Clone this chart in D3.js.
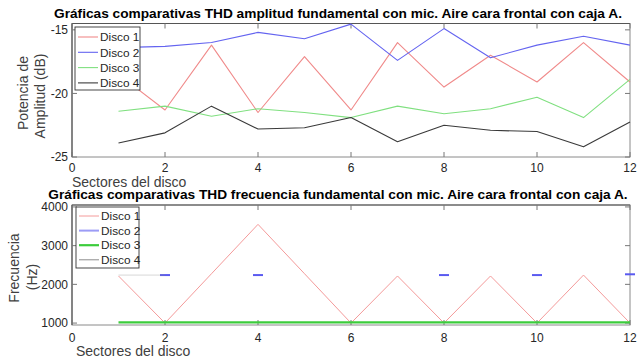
<!DOCTYPE html>
<html>
<head>
<meta charset="utf-8">
<script src="https://cdn.jsdelivr.net/npm/d3@7"></script>
<style>
  body { margin: 0; background: #fff; }
  svg { display: block; font-family: "Liberation Sans", Arial, sans-serif; }
  .tick-label { font-size: 12px; fill: #262626; }
  .axis-label { font-size: 14px; fill: #404040; }
  .title { font-size: 13.7px; font-weight: bold; fill: #000; }
  .legend-text { font-size: 11.8px; fill: #262626; }
</style>
</head>
<body>
<div id="chart"></div>
<script>
// sectors 1..12
const sectors = [1, 2, 3, 4, 5, 6, 7, 8, 9, 10, 11, 12];
const seriesNames = ['Disco 1', 'Disco 2', 'Disco 3', 'Disco 4'];

// amplitude of fundamental (dB)
const disco1Amp = [-18.5, -21.3, -16.2, -21.5, -17.1, -21.3, -16.0, -19.5, -17.0, -19.1, -16.0, -19.1];
const disco2Amp = [-16.4, -16.3, -16.0, -15.2, -15.7, -14.55, -17.4, -14.9, -17.2, -16.2, -15.5, -16.2];
const disco3Amp = [-21.4, -21.0, -21.8, -21.2, -21.5, -21.9, -21.0, -21.6, -21.2, -20.3, -21.9, -18.9];
const disco4Amp = [-23.9, -23.1, -21.0, -22.8, -22.7, -21.9, -23.8, -22.5, -22.9, -23.0, -24.2, -22.25];

// fundamental frequency (Hz), null = no value
const disco1Freq = [2216, 1000, 2275, 3550, 2275, 1000, 2216, 1000, 2216, 1000, 2240, 1000];
const disco2Freq = [null, 2240, null, 2240, null, null, null, 2240, null, 2240, null, 2260];
const disco3Freq = [1020, 1020, 1020, 1020, 1020, 1020, 1020, 1020, 1020, 1020, 1020, 1020];
const disco4Freq = [2240, 2240, null, null, null, null, null, null, null, null, null, null];

// ticks
const xTicks = [0, 2, 4, 6, 8, 10, 12];
const ampTicks = [-25, -20, -15];
const freqTicks = [1000, 2000, 3000, 4000];

const W = 639, H = 360;
const svg = d3.select('#chart').append('svg')
    .attr('width', W)
    .attr('height', H);

function drawPanel(opt) {
    let x = d3.scaleLinear().domain([0, 12]).range([72, 630]);
    let y = d3.scaleLinear().domain(opt.yDomain).range([opt.bottom, opt.top]);
    let g = svg.append('g');

    // box
    g.append('rect')
        .attr('x', x(0)).attr('y', y(opt.yDomain[1]))
        .attr('width', x(12) - x(0)).attr('height', y(opt.yDomain[0]) - y(opt.yDomain[1]))
        .attr('fill', 'none').attr('stroke', '#8a8a8a').attr('stroke-width', 1);
    g.append('line')
        .attr('x1', x(0)).attr('x2', x(0))
        .attr('y1', y(opt.yDomain[0])).attr('y2', y(opt.yDomain[1]))
        .attr('stroke', '#444');
    g.append('line')
        .attr('x1', x(0)).attr('x2', x(12))
        .attr('y1', y(opt.yDomain[1])).attr('y2', y(opt.yDomain[1]))
        .attr('stroke', '#555');

    // inward ticks
    let tl = 5;
    xTicks.forEach(t => {
        g.append('line').attr('x1', x(t)).attr('x2', x(t))
            .attr('y1', opt.bottom).attr('y2', opt.bottom - tl).attr('stroke', '#777');
        g.append('line').attr('x1', x(t)).attr('x2', x(t))
            .attr('y1', opt.top).attr('y2', opt.top + tl).attr('stroke', '#777');
        g.append('text').attr('class', 'tick-label')
            .attr('x', x(t)).attr('y', opt.xTickY)
            .attr('text-anchor', 'middle').text(t);
    });
    opt.yTicks.forEach(t => {
        g.append('line').attr('x1', x(0)).attr('x2', x(0) + tl)
            .attr('y1', y(t)).attr('y2', y(t)).attr('stroke', '#777');
        g.append('line').attr('x1', x(12)).attr('x2', x(12) - tl)
            .attr('y1', y(t)).attr('y2', y(t)).attr('stroke', '#777');
        g.append('text').attr('class', 'tick-label')
            .attr('x', 68).attr('y', y(t)).attr('dy', '0.35em')
            .attr('text-anchor', 'end').text(t);
    });

    // series
    let line = d3.line()
        .defined(d => d[1] !== null)
        .x(d => x(d[0]))
        .y(d => y(d[1]));

    opt.series.forEach(s => {
        let pts = sectors.map((k, i) => [k, s.values[i]]);
        g.append('path')
            .datum(pts)
            .attr('d', line)
            .attr('fill', 'none')
            .attr('stroke', s.color)
            .attr('stroke-width', s.width)
            .attr('stroke-opacity', s.opacity || 1)
            .attr('stroke-linejoin', 'round');
        // isolated points drawn as short dashes
        pts.forEach((p, i) => {
            if (p[1] === null) { return; }
            let prev = i > 0 ? pts[i - 1][1] : null;
            let next = i < pts.length - 1 ? pts[i + 1][1] : null;
            if (prev === null && next === null) {
                g.append('line')
                    .attr('x1', x(p[0]) - 5).attr('x2', x(p[0]) + 5)
                    .attr('y1', y(p[1])).attr('y2', y(p[1]))
                    .attr('stroke', s.color).attr('stroke-width', s.width);
            }
        });
    });

    // legend
    let lg = g.append('g');
    lg.append('rect')
        .attr('x', opt.legend.x).attr('y', opt.legend.y)
        .attr('width', opt.legend.w).attr('height', opt.legend.h)
        .attr('fill', '#fff').attr('stroke', '#333').attr('stroke-width', 0.9);
    opt.series.forEach((s, i) => {
        let cy = opt.legend.y + opt.legend.first + i * opt.legend.step;
        lg.append('line')
            .attr('x1', opt.legend.x + 3).attr('x2', opt.legend.x + 23)
            .attr('y1', cy).attr('y2', cy)
            .attr('stroke', s.color).attr('stroke-width', s.width)
            .attr('stroke-opacity', s.legendOpacity || 1);
        lg.append('text').attr('class', 'legend-text')
            .attr('x', opt.legend.x + 25).attr('y', cy).attr('dy', '0.36em')
            .text(seriesNames[i]);
    });

    // title and labels
    g.append('text').attr('class', 'title')
        .attr('x', 338).attr('y', opt.titleY)
        .attr('text-anchor', 'middle').text(opt.title);
    g.append('text').attr('class', 'axis-label')
        .attr('x', opt.xLabel.x).attr('y', opt.xLabel.y)
        .text('Sectores del disco');
    opt.yLabel.forEach(l => {
        g.append('text').attr('class', 'axis-label')
            .attr('transform', `translate(${l.x},${l.y}) rotate(-90)`)
            .attr('text-anchor', 'middle')
            .text(l.text);
    });
}

drawPanel({
    yDomain: [-25, -14.5],
    top: 23.5, bottom: 157,
    yTicks: ampTicks,
    xTickY: 172,
    titleY: 18,
    title: 'Gráficas comparativas THD amplitud fundamental con mic. Aire cara frontal con caja A.',
    xLabel: { x: 72, y: 187 },
    yLabel: [
        { x: 28, y: 93, text: 'Potencia de' },
        { x: 45, y: 96, text: 'Amplitud (dB)' }
    ],
    legend: { x: 75, y: 27, w: 65, h: 63, first: 10, step: 15.3 },
    series: [
        { values: disco1Amp, color: '#f08a8a', width: 1.1 },
        { values: disco2Amp, color: '#6464f0', width: 1.1 },
        { values: disco3Amp, color: '#80e080', width: 1.1 },
        { values: disco4Amp, color: '#3a3a3a', width: 1.1 }
    ]
});

drawPanel({
    yDomain: [950, 4050],
    top: 205, bottom: 325,
    yTicks: freqTicks,
    xTickY: 342,
    titleY: 199,
    title: 'Gráficas comparativas THD frecuencia fundamental con mic. Aire cara frontal con caja A.',
    xLabel: { x: 76, y: 356 },
    yLabel: [
        { x: 19, y: 268, text: 'Frecuencia' },
        { x: 37, y: 277, text: '(Hz)' }
    ],
    legend: { x: 76, y: 207, w: 63, h: 61, first: 9, step: 14.6 },
    series: [
        { values: disco1Freq, color: '#f49a9a', width: 1 },
        { values: disco2Freq, color: '#5a5af0', width: 2, legendOpacity: 0.6 },
        { values: disco3Freq, color: '#3ccc3c', width: 2.2 },
        { values: disco4Freq, color: '#8c8c8c', width: 1, opacity: 0.35 }
    ]
});
</script>
</body>
</html>
